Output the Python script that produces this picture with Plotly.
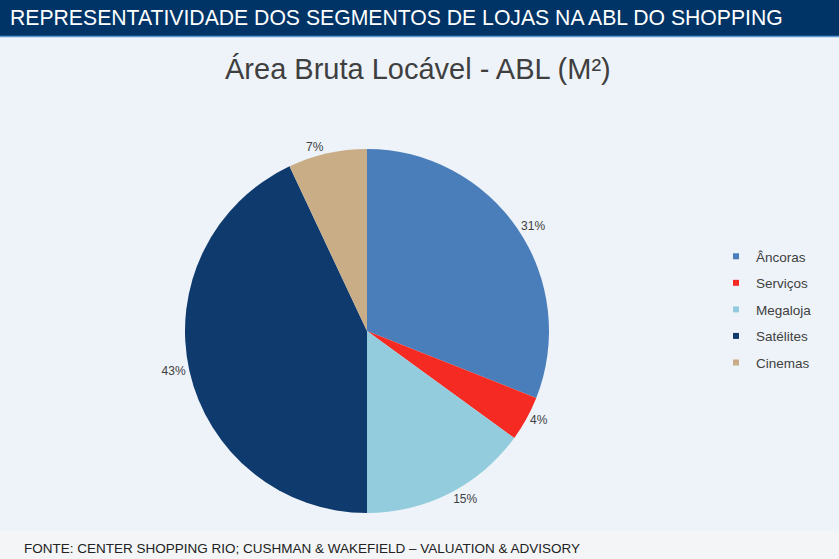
import plotly.graph_objects as go

# dados
segmentos = ["Âncoras", "Serviços", "Megaloja", "Satélites", "Cinemas"]
abl_pct = [31, 4, 15, 43, 7]
cores = ["#4A7EBB", "#F52A22", "#93CDDD", "#0E3A6E", "#C9AD86"]

titulo_barra = "REPRESENTATIVIDADE DOS SEGMENTOS DE LOJAS NA ABL DO SHOPPING"
titulo_grafico = "Área Bruta Locável - ABL (M²)"
fonte = "FONTE: CENTER SHOPPING RIO; CUSHMAN & WAKEFIELD – VALUATION & ADVISORY"

W, H = 839, 559
FONTE_TXT = "Liberation Sans, Arial"

pie = go.Pie(
    labels=segmentos,
    values=abl_pct,
    marker=dict(colors=cores, line=dict(width=0)),
    sort=False,
    direction="clockwise",
    rotation=0,
    texttemplate="%{percent:.0%}",
    textposition="outside",
    textfont=dict(family=FONTE_TXT, size=12, color="#404040"),
    domain=dict(x=[185 / W, 549 / W], y=[1 - 513 / H, 1 - 149 / H]),
    hoverinfo="label+percent",
    showlegend=False,
)

fig = go.Figure(data=[pie])

# legenda com marcadores pequenos, como no original
for nome, cor in zip(segmentos, cores):
    fig.add_trace(go.Scatter(
        x=[None], y=[None], mode="markers", name=nome, legendgroup=nome,
        marker=dict(symbol="square", size=6, color=cor),
        showlegend=True, hoverinfo="skip",
    ))

fig.update_layout(
    width=W,
    height=H,
    margin=dict(l=0, r=0, t=0, b=0),
    paper_bgcolor="#F3F5F7",
    plot_bgcolor="rgba(0,0,0,0)",
    font=dict(family=FONTE_TXT, color="#404040"),
    xaxis=dict(visible=False),
    yaxis=dict(visible=False),
    legend=dict(
        x=716 / W, y=1 - 241 / H, xanchor="left", yanchor="top",
        font=dict(size=13.5, color="#404040"),
        bgcolor="rgba(0,0,0,0)",
        traceorder="grouped",
        tracegroupgap=6,
        itemwidth=30,
    ),
    shapes=[
        # fundo da area do grafico
        dict(type="rect", xref="paper", yref="paper", x0=0, x1=1,
             y0=1 - 531 / H, y1=1 - 37 / H, fillcolor="#EEF3FA", line_width=0, layer="below"),
        # barra do titulo
        dict(type="rect", xref="paper", yref="paper", x0=0, x1=1,
             y0=1 - 36 / H, y1=1, fillcolor="#003466", line_width=0, layer="below"),
        dict(type="line", xref="paper", yref="paper", x0=0, x1=1,
             y0=1 - 36.5 / H, y1=1 - 36.5 / H, line=dict(color="#5B9BD5", width=1.5)),
    ],
    annotations=[
        dict(text=titulo_barra, xref="paper", yref="paper", x=8 / W, y=1 - 18 / H,
             xanchor="left", yanchor="middle", showarrow=False,
             font=dict(size=21.2, color="white", family=FONTE_TXT)),
        dict(text=titulo_grafico, xref="paper", yref="paper", x=418 / W, y=1 - 69 / H,
             xanchor="center", yanchor="middle", showarrow=False,
             font=dict(size=29, color="#3F3F3F", family=FONTE_TXT)),
        dict(text=fonte, xref="paper", yref="paper", x=22 / W, y=1 - 548 / H,
             xanchor="left", yanchor="middle", showarrow=False,
             font=dict(size=13.5, color="#222222", family=FONTE_TXT)),
    ],
)

fig.write_html("out.html", config={"displayModeBar": False},
               post_script="document.body.style.margin='0';")
